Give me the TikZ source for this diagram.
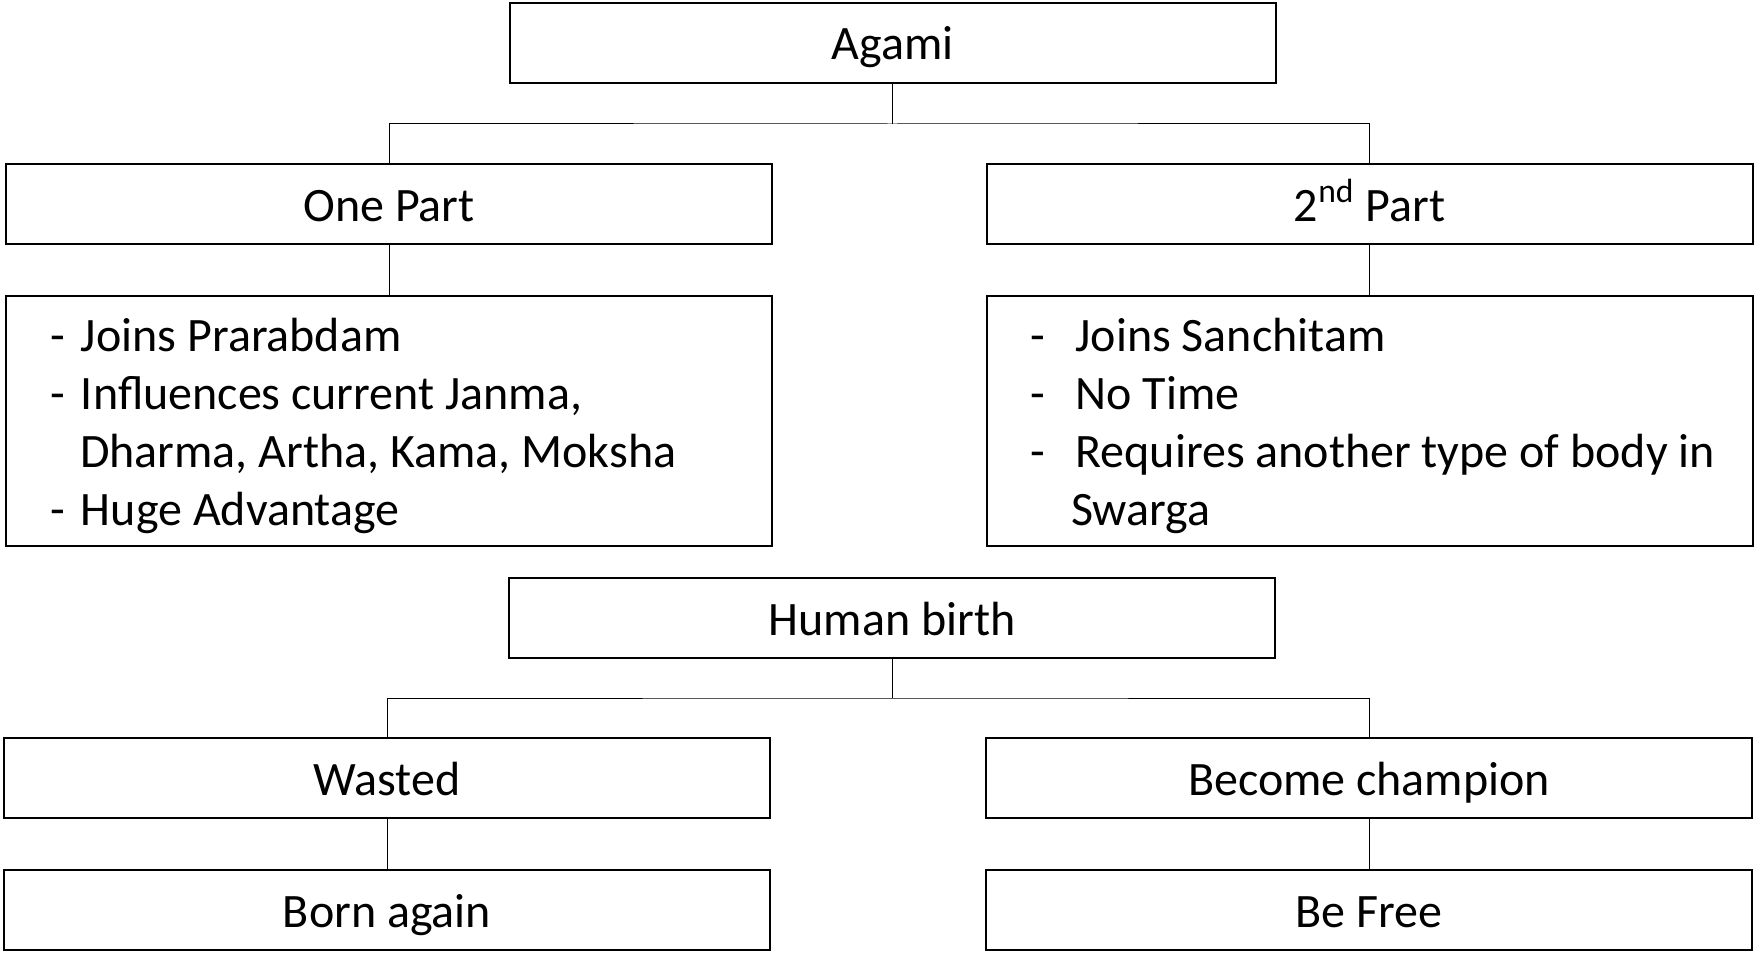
\documentclass[tikz,border=0pt]{standalone}
\usepackage{fontspec}
\setmainfont{Carlito}
\usepackage{tikz}

\tikzset{
    box/.style={draw=black, line width=1pt, minimum width=383pt, minimum height=40pt, inner sep=0pt,
        font=\fontsize{24}{29}\selectfont, text height=17pt, text depth=0pt},
    listbox/.style={box, minimum height=125pt, align=flush left, text width=339pt, inner xsep=22pt,
        text height=17pt, text depth=87pt},
    link/.style={draw=black, line width=0.5pt}
}
\newcommand{\dashitem}[1]{\makebox[#1][l]{-}}

\begin{document}
\begin{tikzpicture}[x=0.5pt, y=-0.5pt]
        \useasboundingbox (0,0) rectangle (1754,952);
        % first tree
        \node [box] (agami) at (892.5, 43) {Agami};
        \node [box] (onepart) at (389, 204) {One Part};
        \node [box] (secondpart) at (1369.5, 204) {2\textsuperscript{nd} Part};
        \node [listbox] (prarabdam) at (389, 421) {\dashitem{15.5pt}Joins Prarabdam\\
            \dashitem{15.5pt}Influences current Janma,\\
            \hspace*{15pt}Dharma, Artha, Kama, Moksha\\
            \dashitem{15.5pt}Huge Advantage};
        \node [listbox] (sanchitam) at (1369.5, 421) {\dashitem{22.5pt}Joins Sanchitam\\
            \dashitem{22.5pt}No Time\\
            \mbox{\dashitem{22.5pt}Requires another type of body in}\\
            \hspace*{20.4pt}Swarga};
        \coordinate (fork1) at (892.5, 124);
        \draw [link] (agami.south) -- (fork1);
        \draw [link] (onepart.north) |- (fork1) -| (secondpart.north);
        \draw [link] (onepart.south) -- (prarabdam.north);
        \draw [link] (secondpart.south) -- (sanchitam.north);
        % second tree
        \node [box] (birth) at (892, 618) {Human birth};
        \node [box] (wasted) at (387, 778) {Wasted};
        \node [box] (champion) at (1369, 778) {Become champion};
        \node [box] (bornagain) at (387, 910) {Born again};
        \node [box] (befree) at (1369, 910) {Be Free};
        \coordinate (fork2) at (892, 698);
        \draw [link] (birth.south) -- (fork2);
        \draw [link] (wasted.north) |- (fork2) -| (champion.north);
        \draw [link] (wasted.south) -- (bornagain.north);
        \draw [link] (champion.south) -- (befree.north);
\end{tikzpicture}
\end{document}
